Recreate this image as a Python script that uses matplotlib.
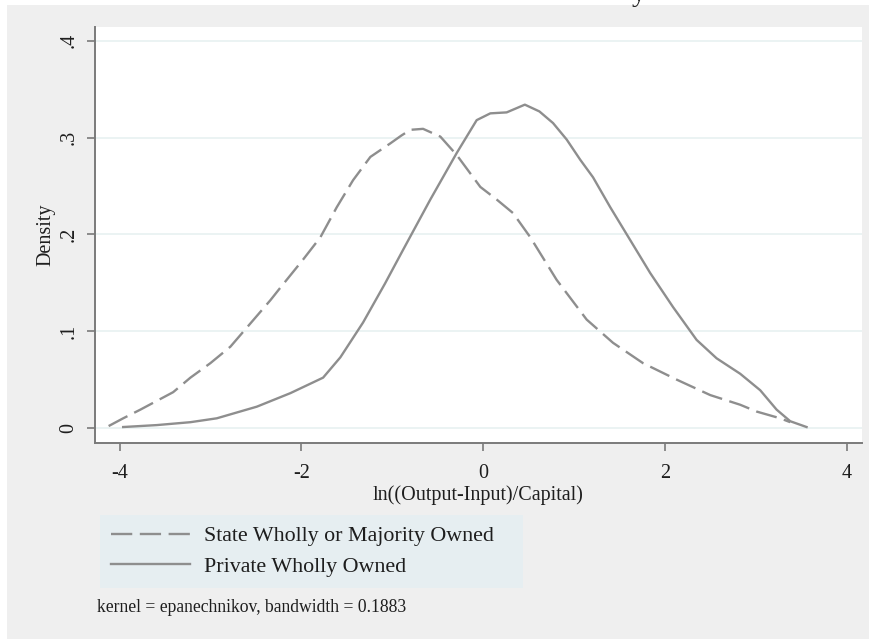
import matplotlib
matplotlib.use("Agg")
import matplotlib.pyplot as plt
from matplotlib.patches import Rectangle
from matplotlib.lines import Line2D

# Kernel density estimates, read as (x, density) pairs
state_x = [-4.12, -3.96, -3.77, -3.41, -3.22, -3.00, -2.78, -2.56, -2.34, -2.23,
           -1.98, -1.79, -1.61, -1.43, -1.24, -1.13, -1.02, -0.90, -0.80, -0.66,
           -0.47, -0.29, -0.03, 0.15, 0.33, 0.52, 0.81, 1.14, 1.43, 1.76,
           2.13, 2.50, 2.83, 3.01, 3.27, 3.38]
state_y = [0.002, 0.010, 0.019, 0.037, 0.052, 0.067, 0.084, 0.108, 0.132, 0.145,
           0.174, 0.197, 0.228, 0.256, 0.280, 0.287, 0.294, 0.302, 0.308, 0.309,
           0.301, 0.282, 0.249, 0.236, 0.222, 0.197, 0.153, 0.112, 0.088, 0.067,
           0.050, 0.034, 0.024, 0.017, 0.010, 0.006]

private_x = [-3.96, -3.59, -3.22, -2.93, -2.49, -2.12, -1.76, -1.57, -1.32, -1.08,
             -0.88, -0.58, -0.29, -0.07, 0.08, 0.26, 0.46, 0.62, 0.77, 0.92,
             1.07, 1.21, 1.40, 1.62, 1.84, 2.09, 2.35, 2.57, 2.83, 3.05,
             3.23, 3.38, 3.56]
private_y = [0.001, 0.003, 0.006, 0.010, 0.022, 0.036, 0.052, 0.073, 0.109, 0.149,
             0.184, 0.236, 0.284, 0.318, 0.325, 0.326, 0.334, 0.327, 0.315, 0.298,
             0.277, 0.259, 0.228, 0.194, 0.160, 0.125, 0.091, 0.072, 0.056, 0.039,
             0.019, 0.007, 0.001]

labels = ["State Wholly or Majority Owned", "Private Wholly Owned"]
x_ticks = [-4, -2, 0, 2, 4]
y_ticks = [0, 0.1, 0.2, 0.3, 0.4]
y_ticklabels = ["0", ".1", ".2", ".3", ".4"]
note = "kernel = epanechnikov, bandwidth = 0.1883"

plt.rcParams["font.family"] = ["Liberation Serif", "DejaVu Serif"]
TEXT = "#1e1e1e"
LINE = "#8e8e8e"
AXIS = "#7a7a7a"

W, H = 870, 639
fig = plt.figure(figsize=(W / 100, H / 100), dpi=100)
fig.patch.set_facecolor("white")

# graph region background
fig.patches.append(Rectangle((7 / W, 0), 1 - 7 / W, 634 / H,
                             transform=fig.transFigure, facecolor="#efefef",
                             edgecolor="none", zorder=-10))

# clipped title descender at the very top
fig.text(639 / W, 1.0 - 1 / H, "y", fontsize=20, color=TEXT,
         ha="center", va="baseline")

ax = fig.add_axes([95 / W, (H - 443) / H, (862 - 95) / W, (443 - 27) / H])
ax.set_facecolor("white")
ax.set_xlim(-4.27, 4.17)
ax.set_ylim(-0.0155, 0.4142)

for y in y_ticks:
    ax.axhline(y, color="#e6f0f0", lw=1.1, zorder=0)

ax.plot(state_x, state_y, color=LINE, lw=1.7, dashes=(9, 3.2),
        solid_joinstyle="round", dash_joinstyle="round", zorder=3)
ax.plot(private_x, private_y, color=LINE, lw=1.7,
        solid_joinstyle="round", zorder=3)

for side in ["top", "right"]:
    ax.spines[side].set_visible(False)
for side in ["left", "bottom"]:
    ax.spines[side].set_color(AXIS)
    ax.spines[side].set_linewidth(1.4)

ax.set_xticks(x_ticks)
ax.set_xticklabels([str(v) for v in x_ticks])
ax.set_yticks(y_ticks)
ax.set_yticklabels(y_ticklabels, rotation=90, va="center")
ax.tick_params(axis="x", pad=9)
ax.tick_params(axis="y", pad=6)
ax.tick_params(axis="both", colors=AXIS, length=6, width=1.2,
               labelcolor=TEXT, labelsize=14.5)

ax.set_xlabel("ln((Output-Input)/Capital)", fontsize=14.5, color=TEXT, labelpad=2)
ax.set_ylabel("Density", fontsize=14.5, color=TEXT, labelpad=3)

handles = [Line2D([], [], color=LINE, lw=1.7, dashes=(9, 3.2)),
           Line2D([], [], color=LINE, lw=1.7)]
leg = fig.legend(handles, labels, loc="upper left", mode="expand",
                 bbox_to_anchor=(100 / W, (H - 587) / H, 423 / W, 72 / H),
                 bbox_transform=fig.transFigure, fontsize=15.8,
                 frameon=True, fancybox=False, facecolor="#e6eef1",
                 edgecolor="none", framealpha=1, handlelength=3.6,
                 handletextpad=0.65, labelspacing=0.45, borderpad=0.5,
                 borderaxespad=0)
for t in leg.get_texts():
    t.set_color(TEXT)

fig.text(97 / W, (H - 608) / H, note, fontsize=12.7, color=TEXT,
         ha="left", va="center")

fig.savefig("out.png", dpi=100, facecolor=fig.get_facecolor())
